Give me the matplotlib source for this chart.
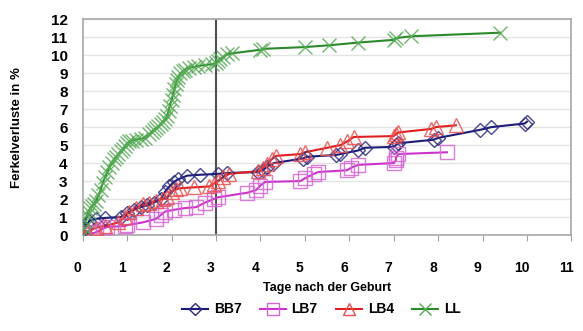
import matplotlib.pyplot as plt
import matplotlib.transforms as mtransforms
from matplotlib.lines import Line2D

plt.rcParams['font.family'] = ['Liberation Sans', 'DejaVu Sans']
plt.rcParams['font.weight'] = 'bold'

# Ferkelverluste (%) nach Tagen seit Geburt
bb7_days = [0, 0.05, 0.15, 0.3, 0.5, 0.85, 1.0, 1.15, 1.3, 1.45, 1.6, 1.75, 1.85, 1.95, 2.05,
            2.15, 2.35, 2.65, 3.05, 3.25, 3.95, 4.05, 4.15, 4.3, 4.95, 5.05, 5.7, 5.8, 6.2,
            6.35, 7.0, 7.05, 7.1, 7.9, 8.0, 8.95, 9.2, 9.95, 10.0]
bb7_loss = [0, 0.4, 0.8, 0.9, 0.95, 1.0, 1.2, 1.4, 1.55, 1.65, 1.8, 2.0, 2.4, 2.7, 2.95,
            3.1, 3.3, 3.35, 3.4, 3.45, 3.5, 3.6, 3.8, 4.0, 4.25, 4.35, 4.45, 4.5, 4.7,
            4.85, 4.9, 5.0, 5.1, 5.3, 5.4, 5.85, 6.0, 6.2, 6.3]

lb7_days = [0, 0.15, 0.3, 0.45, 0.55, 0.95, 1.0, 1.35, 1.65, 1.75, 1.85, 2.05, 2.3, 2.55,
            2.75, 2.95, 3.05, 3.7, 3.9, 4.0, 4.1, 4.9, 5.0, 5.2, 5.3, 5.95, 6.05, 6.2,
            7.0, 7.05, 7.05, 7.1, 8.2]
lb7_loss = [0, 0.05, 0.15, 0.35, 0.45, 0.5, 0.55, 0.7, 0.9, 1.1, 1.3, 1.4, 1.5, 1.55,
            1.8, 2.0, 2.1, 2.35, 2.5, 2.75, 2.95, 3.0, 3.15, 3.4, 3.5, 3.6, 3.75, 3.9,
            4.0, 4.15, 4.3, 4.5, 4.6]

lb4_days = [0, 0.1, 0.3, 0.5, 0.8, 0.95, 1.05, 1.2, 1.35, 1.5, 1.65, 1.8, 1.9, 2.0, 2.1,
            2.2, 2.5, 2.85, 2.95, 3.05, 3.15, 3.3, 3.95, 4.05, 4.15, 4.25, 4.35, 4.9, 5.0,
            5.5, 5.8, 5.95, 6.1, 7.0, 7.05, 7.1, 7.85, 7.95, 8.4]
lb4_loss = [0, 0.2, 0.4, 0.5, 0.7, 1.0, 1.3, 1.5, 1.7, 1.8, 1.9, 2.0, 2.1, 2.4, 2.55,
            2.6, 2.65, 2.7, 2.85, 3.0, 3.2, 3.4, 3.55, 3.75, 3.95, 4.2, 4.4, 4.5, 4.6,
            4.85, 5.0, 5.2, 5.45, 5.5, 5.6, 5.7, 5.9, 6.0, 6.1]

ll_days = [0, 0.03, 0.06, 0.1, 0.13, 0.17, 0.2, 0.25, 0.3, 0.35, 0.4, 0.45, 0.5, 0.55,
           0.6, 0.65, 0.7, 0.75, 0.8, 0.85, 0.9, 0.95, 1.0, 1.05, 1.1, 1.2, 1.3, 1.4,
           1.5, 1.55, 1.6, 1.65, 1.7, 1.75, 1.8, 1.85, 1.9, 1.93, 1.96, 2.0, 2.03, 2.06,
           2.09, 2.12, 2.15, 2.2, 2.25, 2.3, 2.4, 2.5, 2.6, 2.75, 2.9, 3.0, 3.05, 3.1,
           3.15, 3.25, 3.35, 4.0, 4.05, 5.0, 5.55, 6.2, 7.0, 7.05, 7.4, 9.4]
ll_loss = [0, 0.4, 0.8, 1.1, 1.3, 1.5, 1.6, 1.75, 1.9, 2.2, 2.5, 2.9, 3.2, 3.5,
           3.8, 4.0, 4.2, 4.35, 4.5, 4.65, 4.8, 4.95, 5.1, 5.2, 5.25, 5.3, 5.35, 5.4,
           5.6, 5.75, 5.85, 5.95, 6.05, 6.15, 6.3, 6.45, 6.6, 6.9, 7.2, 7.5, 7.8, 8.1,
           8.4, 8.6, 8.8, 9.0, 9.1, 9.2, 9.3, 9.35, 9.4, 9.45, 9.5, 9.55, 9.65, 9.8,
           9.9, 10.05, 10.1, 10.3, 10.35, 10.45, 10.55, 10.7, 10.85, 10.95, 11.05, 11.25]

x_ticks = list(range(0, 12))
y_ticks = list(range(0, 13))

fig = plt.figure(figsize=(5.83, 3.31), dpi=100)
ax = fig.add_axes([0.142, 0.29, 0.838, 0.652])

series = [
    ('BB7', bb7_days, bb7_loss, '#1c1c78', '#2a2a80', 'D', 7),
    ('LB7', lb7_days, lb7_loss, '#cc33cc', '#d466d4', 's', 9.5),
    ('LB4', lb4_days, lb4_loss, '#e02020', '#e85050', '^', 9.5),
    ('LL', ll_days, ll_loss, '#2a8a2a', '#55aa55', 'x', 9.5),
]

handles = []
for name, xs, ys, lc, mc, mk, ms in series:
    ax.plot(xs, ys, color=lc, lw=1.5, zorder=3)
    ax.plot(xs, ys, ls='none', marker=mk, ms=ms, mfc='none', mec=mc,
            mew=1.0, alpha=0.85, zorder=4)
    handles.append(Line2D([], [], color=lc, lw=1.5, marker=mk, ms=ms * 0.9,
                          mfc='none', mec=mc, mew=1.0))

ax.axvline(3, color='#505050', lw=1.5, zorder=2)

ax.set_xlim(0, 11)
ax.set_ylim(0, 12)
ax.set_xticks(x_ticks)
ax.set_yticks(y_ticks)
ax.tick_params(axis='x', length=4, color='#a0a0a0', labelsize=10, pad=15)
ax.tick_params(axis='y', length=0, labelsize=11, pad=11)
offset = mtransforms.ScaledTranslation(-5 / 100, 0, fig.dpi_scale_trans)
for lbl in ax.get_xticklabels():
    lbl.set_transform(lbl.get_transform() + offset)

ax.grid(axis='y', color='#e4e4e4', lw=1.0)
ax.set_axisbelow(True)
for sp in ax.spines.values():
    sp.set_color('#a8a8a8')
    sp.set_linewidth(1.2)

ax.set_xlabel('Tage nach der Geburt', fontsize=9, fontweight='bold', labelpad=5)
ax.set_ylabel('Ferkelverluste in %', fontsize=9.5, fontweight='bold', labelpad=20)

fig.legend(handles, [s[0] for s in series], loc='center', bbox_to_anchor=(0.551, 0.065),
           ncol=4, frameon=False, handlelength=1.9, columnspacing=1.3,
           handletextpad=0.4, prop={'weight': 'bold', 'size': 10})

fig.savefig('out.png', dpi=100)
